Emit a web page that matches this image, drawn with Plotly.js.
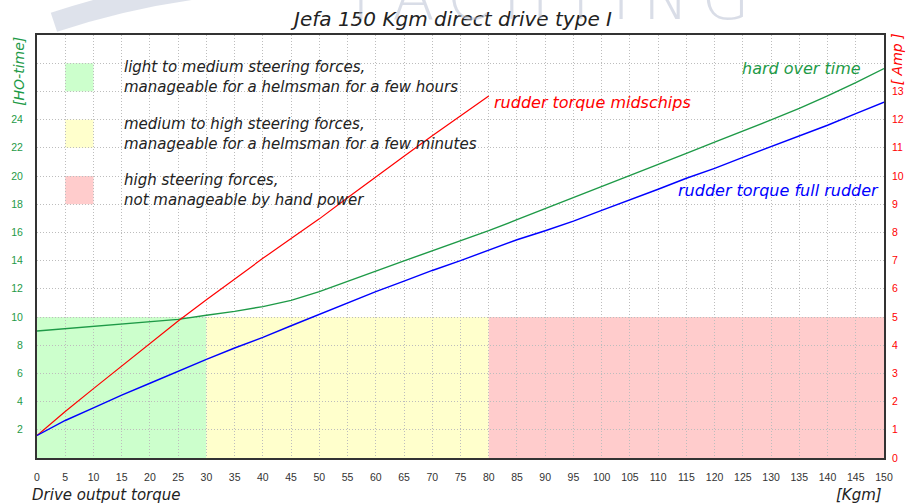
<!DOCTYPE html>
<html><head><meta charset="utf-8">
<script src="https://cdn.plot.ly/plotly-3.0.1.min.js"></script>
<style>html,body{margin:0;padding:0;background:#fff;}#chart{width:906px;height:504px;}</style>
</head><body><div id="chart"></div>
<script>
// ---- data ----
const torque = [0,5,10,15,20,25,30,35,40,45,50,55,60,65,70,75,80,85,90,95,100,105,110,115,120,125,130,135,140,145,150];
const hardOverTime = [9.01,9.17,9.31,9.48,9.65,9.83,10.12,10.4,10.74,11.18,11.8,12.5,13.25,13.98,14.7,15.42,16.12,16.9,17.68,18.44,19.24,20.04,20.8,21.6,22.4,23.18,23.98,24.8,25.68,26.62,27.62];
const torqueMid = [0,5,10,15,20,25,30,35,40,45,50,55,60,65,70,75,80];
const midschipsAmp = [0.8,1.65,2.46,3.27,4.08,4.86,5.61,6.36,7.08,7.78,8.48,9.23,9.95,10.7,11.43,12.15,12.84];
const fullRudderAmp = [0.8,1.33,1.78,2.23,2.65,3.08,3.5,3.9,4.28,4.69,5.1,5.5,5.9,6.27,6.65,7.0,7.37,7.74,8.06,8.4,8.78,9.15,9.53,9.92,10.27,10.66,11.04,11.41,11.8,12.21,12.62];
const zoneStart = [0,30,80];
const zoneEnd = [30,80,150];
const zoneLimit = 10;
const zoneColors = ['#ccffcc','#ffffcc','#ffcccc'];
const zoneText = [
  'light to medium steering forces,<br>manageable for a helmsman for a few hours',
  'medium to high steering forces,<br>manageable for a helmsman for a few minutes',
  'high steering forces,<br>not manageable by hand power'
];
const xTicks = torque.slice();
const leftTickVals = [0,2,4,6,8,10,12,14,16,18,20,22,24,26,28,30];
const leftTickText = ['','2','4','6','8','10','12','14','16','18','20','22','24','','',''];
const rightTickVals = [0,1,2,3,4,5,6,7,8,9,10,11,12,13];

// ---- styles ----
const F = 'DejaVu Sans, Verdana, sans-serif';
const TF = 'Liberation Sans, Arial, sans-serif';
const GREEN = '#1e9a47', RED = '#ff0000', BLUE = '#0000ff', DARK = '#222222';

const traces = [
  {x: torque, y: hardOverTime, type: 'scatter', mode: 'lines', yaxis: 'y',
   line: {color: GREEN, width: 1.4}, hoverinfo: 'skip'},
  {x: torqueMid, y: midschipsAmp, type: 'scatter', mode: 'lines', yaxis: 'y2',
   line: {color: RED, width: 1.2}, hoverinfo: 'skip'},
  {x: torque, y: fullRudderAmp, type: 'scatter', mode: 'lines', yaxis: 'y2',
   line: {color: BLUE, width: 1.4}, hoverinfo: 'skip'}
];

const shapes = [];
zoneStart.forEach((s, i) => {
  shapes.push({type: 'rect', xref: 'x', yref: 'y', x0: s, x1: zoneEnd[i], y0: 0, y1: zoneLimit,
    fillcolor: zoneColors[i], line: {width: 0}, layer: 'below'});
});
// legend swatches
const swatchTop = [28, 24, 20];
swatchTop.forEach((t, i) => {
  shapes.push({type: 'rect', xref: 'x', yref: 'y', x0: 5, x1: 10, y0: t - 2, y1: t,
    fillcolor: zoneColors[i], line: {width: 0}, layer: 'below'});
});
// watermark swoosh
shapes.push({type: 'path', xref: 'paper', yref: 'paper',
  path: 'M 0.02,1.03 Q 0.2,1.15 0.4,1.12', line: {color: 'rgba(190,198,215,0.5)', width: 20}, layer: 'below'});

const annotations = [];
zoneText.forEach((t, i) => {
  annotations.push({xref: 'x', yref: 'y', x: 15, y: swatchTop[i] - 1, text: t, showarrow: false,
    xanchor: 'left', yanchor: 'middle', align: 'left',
    font: {family: F, size: 15, color: DARK, style: 'italic'}});
});
annotations.push(
  {xref: 'x', yref: 'y', x: 80.6, y: 25.2, text: 'rudder torque midschips', showarrow: false,
   xanchor: 'left', yanchor: 'middle', font: {family: F, size: 16, color: RED, style: 'italic'}},
  {xref: 'x', yref: 'y', x: 146.2, y: 27.6, text: 'hard over time', showarrow: false,
   xanchor: 'right', yanchor: 'middle', font: {family: F, size: 16, color: GREEN, style: 'italic'}},
  {xref: 'x', yref: 'y', x: 149.4, y: 19.0, text: 'rudder torque full rudder', showarrow: false,
   xanchor: 'right', yanchor: 'middle', font: {family: F, size: 16, color: BLUE, style: 'italic'}},
  {xref: 'paper', yref: 'paper', x: -0.008, y: -0.062, text: 'Drive output torque', showarrow: false,
   xanchor: 'left', yanchor: 'top', font: {family: F, size: 15, color: DARK, style: 'italic'}},
  {xref: 'paper', yref: 'paper', x: 1.0, y: -0.062, text: '[Kgm]', showarrow: false,
   xanchor: 'right', yanchor: 'top', font: {family: F, size: 15, color: DARK, style: 'italic'}},
  {xref: 'paper', yref: 'paper', x: -0.022, y: 1.0, text: '[HO-time]', showarrow: false, textangle: -90,
   xanchor: 'center', yanchor: 'top', font: {family: F, size: 14, color: GREEN, style: 'italic'}},
  {xref: 'paper', yref: 'paper', x: 1.015, y: 1.008, text: '[ Amp ]', showarrow: false, textangle: -90,
   xanchor: 'center', yanchor: 'top', font: {family: F, size: 14, color: RED, style: 'italic'}},
  {xref: 'paper', yref: 'paper', x: 0.6, y: 1.088, text: 'Y\u2009A\u2009C\u2009H\u2009T\u2009I\u2009N\u2009G', showarrow: false,
   xanchor: 'center', yanchor: 'middle', font: {family: 'DejaVu Sans, sans-serif', size: 62, color: 'rgba(185,193,212,0.55)', weight: 300}}
);

const layout = {
  width: 906, height: 504,
  margin: {l: 37, r: 22, t: 35, b: 46, pad: 0},
  paper_bgcolor: '#ffffff', plot_bgcolor: '#ffffff',
  showlegend: false,
  title: {text: 'Jefa 150 Kgm direct drive type I', xref: 'container', x: 0.5, xanchor: 'center',
          yref: 'container', y: 0.962, yanchor: 'middle',
          font: {family: F, size: 20, color: DARK, style: 'italic'}},
  xaxis: {range: [0, 150], tickmode: 'array', tickvals: xTicks, ticks: '', ticklabelstandoff: 8,
          showgrid: true, gridcolor: '#bdbdbd', griddash: '1px,2px', gridwidth: 1, zeroline: false,
          showline: true, linecolor: '#333333', linewidth: 2, mirror: true,
          tickfont: {family: TF, size: 10.5, color: '#333333'}, fixedrange: true},
  yaxis: {range: [0, 30], tickmode: 'array', tickvals: leftTickVals, ticktext: leftTickText, ticks: '',
          ticklabelstandoff: 10, showgrid: true, gridcolor: '#bdbdbd', griddash: '1px,2px', gridwidth: 1,
          zeroline: false, showline: true, linecolor: '#333333', linewidth: 2, mirror: true,
          tickfont: {family: TF, size: 10.5, color: GREEN}, fixedrange: true},
  yaxis2: {range: [0, 15], overlaying: 'y', side: 'right', tickmode: 'array', tickvals: rightTickVals,
           ticks: '', ticklabelstandoff: 7, showgrid: false, zeroline: false, showline: false,
           tickfont: {family: TF, size: 10.5, color: RED}, fixedrange: true},
  shapes: shapes,
  annotations: annotations
};

Plotly.newPlot('chart', traces, layout, {staticPlot: true, displayModeBar: false});
</script></body></html>
